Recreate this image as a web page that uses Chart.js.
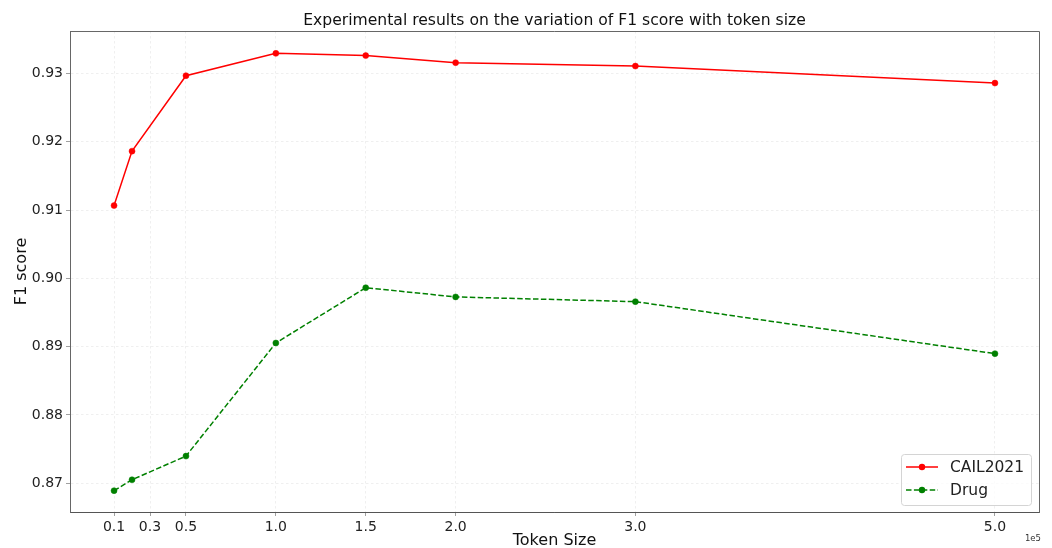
<!DOCTYPE html>
<html>
<head>
<meta charset="utf-8">
<script src="https://cdn.jsdelivr.net/npm/chart.js@4.4.1/dist/chart.umd.min.js"></script>
<style>
  html, body { margin: 0; padding: 0; background: #ffffff; }
  #wrap { width: 1052px; height: 548px; position: relative; }
</style>
</head>
<body>
<div id="wrap"><canvas id="c" width="1052" height="548"></canvas></div>
<script>
// ---- data (token size in units of 1e5) ----
const tokenSizes = [0.1, 0.2, 0.5, 1.0, 1.5, 2.0, 3.0, 5.0];
const cail2021 = [0.91065, 0.91862, 0.92966, 0.93293, 0.93260, 0.93157, 0.93107, 0.92858];
const drug     = [0.86892, 0.87052, 0.87398, 0.89054, 0.89863, 0.89728, 0.89659, 0.88898];
const xTickValues = [0.1, 0.3, 0.5, 1.0, 1.5, 2.0, 3.0, 5.0];
const yTickValues = [0.87, 0.88, 0.89, 0.90, 0.91, 0.92, 0.93];
const seriesNames = ['CAIL2021', 'Drug'];
const titleText = 'Experimental results on the variation of F1 score with token size';
const xLabel = 'Token Size';
const yLabel = 'F1 score';
const offsetLabel = '1e5';

const FONT = "'DejaVu Sans', 'Liberation Sans', sans-serif";
const RED = '#ff0000';
const GREEN = '#008000';
const GREEN_DASH = [5.5, 2.4];

const toPoints = (ys) => tokenSizes.map((x, i) => ({ x: x, y: ys[i] }));

// frame (top/right spines), legend inside plot, and the 1e5 offset text
const extrasPlugin = {
  id: 'extras',
  afterDraw(chart) {
    const { ctx, chartArea: a } = chart;
    ctx.save();
    // top and right spines
    ctx.strokeStyle = '#666666';
    ctx.lineWidth = 1;
    ctx.beginPath();
    ctx.moveTo(a.left, a.top + 0.5);
    ctx.lineTo(a.right + 0.5, a.top + 0.5);
    ctx.lineTo(a.right + 0.5, a.bottom);
    ctx.stroke();

    // offset text
    ctx.fillStyle = '#333333';
    ctx.font = '8.5px ' + FONT;
    ctx.textAlign = 'right';
    ctx.textBaseline = 'middle';
    ctx.fillText(offsetLabel, a.right + 2, 539);

    // legend
    const bx = a.right - 138, by = a.bottom - 58, bw = 130, bh = 51;
    ctx.fillStyle = 'rgba(255,255,255,0.8)';
    ctx.strokeStyle = '#d4d4d4';
    ctx.lineWidth = 1;
    ctx.beginPath();
    if (ctx.roundRect) ctx.roundRect(bx + 0.5, by + 0.5, bw, bh, 3); else ctx.rect(bx + 0.5, by + 0.5, bw, bh);
    ctx.fill();
    ctx.stroke();
    const ds = chart.data.datasets;
    const rows = [by + 13, by + 36];
    ds.forEach((d, i) => {
      const y = rows[i];
      ctx.strokeStyle = d.borderColor;
      ctx.lineWidth = 1.5;
      ctx.setLineDash(d.borderDash || []);
      ctx.beginPath();
      ctx.moveTo(bx + 5, y);
      ctx.lineTo(bx + 37, y);
      ctx.stroke();
      ctx.setLineDash([]);
      ctx.fillStyle = d.pointBackgroundColor;
      ctx.beginPath();
      ctx.arc(bx + 21, y, 3.2, 0, Math.PI * 2);
      ctx.fill();
      ctx.fillStyle = '#222222';
      ctx.font = '15.5px ' + FONT;
      ctx.textAlign = 'left';
      ctx.textBaseline = 'middle';
      ctx.fillText(d.label, bx + 49, y + 1);
    });
    ctx.restore();
  }
};

new Chart(document.getElementById('c'), {
  type: 'line',
  data: {
    datasets: [
      {
        label: seriesNames[0],
        data: toPoints(cail2021),
        borderColor: RED,
        backgroundColor: RED,
        pointBackgroundColor: RED,
        pointBorderColor: RED,
        borderWidth: 1.5,
        pointRadius: 3,
        pointBorderWidth: 0.5,
        tension: 0,
        fill: false
      },
      {
        label: seriesNames[1],
        data: toPoints(drug),
        borderColor: GREEN,
        backgroundColor: GREEN,
        pointBackgroundColor: GREEN,
        pointBorderColor: GREEN,
        borderWidth: 1.5,
        borderDash: GREEN_DASH,
        pointRadius: 3,
        pointBorderWidth: 0.5,
        tension: 0,
        fill: false
      }
    ]
  },
  options: {
    responsive: false,
    animation: false,
    devicePixelRatio: 1,
    layout: { padding: { left: 0, right: 13, top: 0, bottom: 0 } },
    plugins: {
      legend: { display: false },
      tooltip: { enabled: false },
      title: {
        display: true,
        fullSize: false,
        text: titleText,
        color: '#111111',
        font: { family: FONT, size: 15.6, weight: 'normal', lineHeight: 1.2 },
        padding: { top: 12, bottom: 0.3 }
      }
    },
    scales: {
      x: {
        type: 'linear',
        min: -0.145,
        max: 5.245,
        afterBuildTicks: (scale) => { scale.ticks = xTickValues.map(v => ({ value: v })); },
        afterFit: (scale) => { scale.height = 36; },
        ticks: {
          autoSkip: false,
          maxRotation: 0,
          padding: 3,
          color: '#222222',
          font: { family: FONT, size: 14 },
          callback: (v) => Number(v).toFixed(1)
        },
        grid: {
          color: '#ebebeb',
          lineWidth: 0.8,
          drawTicks: true,
          tickLength: 4,
          tickColor: '#888888',
          tickWidth: 0.8
        },
        border: { display: true, color: '#555555', width: 1, dash: [2.5, 2.5] },
        title: {
          display: true,
          text: xLabel,
          color: '#111111',
          font: { family: FONT, size: 16, lineHeight: 1 },
          padding: { top: 0, bottom: -0.5 }
        }
      },
      y: {
        type: 'linear',
        min: 0.8658,
        max: 0.9362,
        afterBuildTicks: (scale) => { scale.ticks = yTickValues.map(v => ({ value: v })); },
        afterFit: (scale) => { scale.width = 70; },
        ticks: {
          padding: 3,
          color: '#222222',
          font: { family: FONT, size: 14 },
          callback: (v) => Number(v).toFixed(2)
        },
        grid: {
          color: '#ebebeb',
          lineWidth: 0.8,
          drawTicks: true,
          tickLength: 4,
          tickColor: '#888888',
          tickWidth: 0.8
        },
        border: { display: true, color: '#666666', width: 1, dash: [2.5, 2.5] },
        title: {
          display: true,
          text: yLabel,
          color: '#111111',
          font: { family: FONT, size: 16, lineHeight: 1.2 },
          padding: { top: 12.5, bottom: 0 }
        }
      }
    }
  },
  plugins: [extrasPlugin]
});
</script>
</body>
</html>
